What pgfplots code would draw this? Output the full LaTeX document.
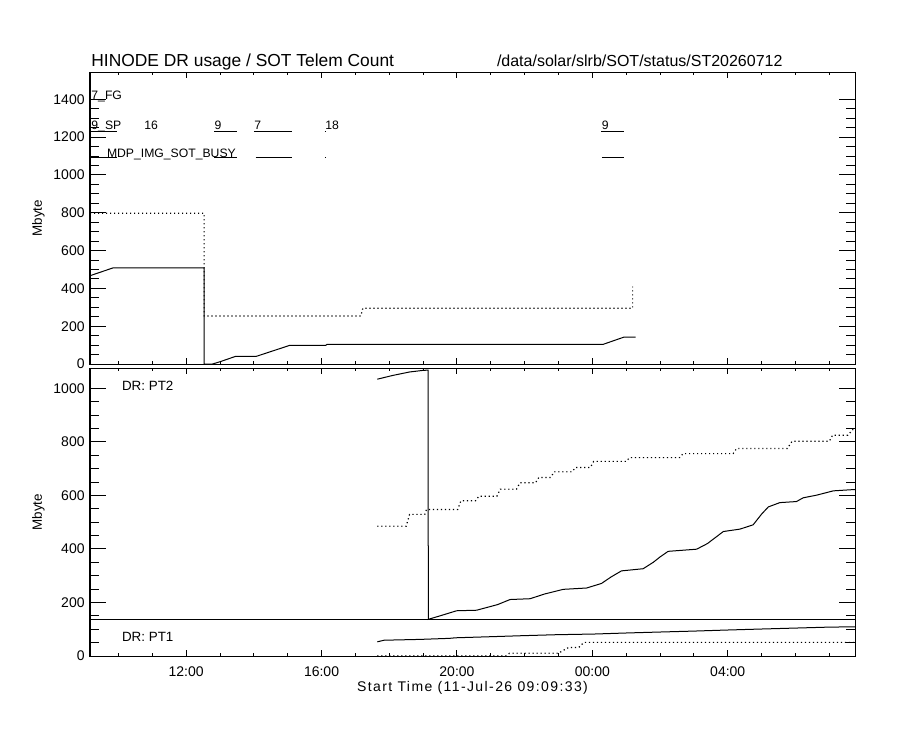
\documentclass[border=0pt]{standalone}
\usepackage{fontspec}
\setmainfont{Liberation Sans}
\newfontfamily\lsfont[LetterSpace=10]{Liberation Sans}
\usepackage{pgfplots}
\pgfplotsset{compat=1.18}
\newcommand{\tl}{\fontsize{7}{8}\selectfont}
\newcommand{\an}{\fontsize{6.1}{7}\selectfont}
\newcommand{\lb}{\fontsize{6.7}{8}\selectfont}
\pgfplotsset{
  idl/.style={
    scale only axis,
    clip=false,
    width=382.5pt,
    xmin=9.159, xmax=31.76,
    axis line style={line width=0.5pt},
    every tick/.style={line width=0.5pt, black},
    tick align=inside,
    xtick={12,16,20,24,28},
    minor xtick={10,11,13,14,15,17,18,19,21,22,23,25,26,27,29,30,31},
    xtick style={/pgfplots/major tick length=2.8pt,/pgfplots/minor tick length=1.4pt},
    ytick style={/pgfplots/major tick length=8pt,/pgfplots/minor tick length=4.5pt},
    minor y tick num=3,
    /pgf/number format/1000 sep={},
    /pgf/number format/assume math mode=true,
    tick label style={font=\tl},
    yticklabel style={anchor=east, inner sep=0pt, xshift=-2.5pt},
    xticklabel style={anchor=north, inner sep=0pt, yshift=-5.3pt},
    every axis plot/.append style={line width=0.5pt, black},
  },
  dots/.style={line width=0.6pt, dash pattern=on 0.6pt off 1.4pt},
}
\begin{document}
\begin{tikzpicture}
\path[use as bounding box] (0,0) rectangle (450pt,365pt);
% ---------------- top panel ----------------
\begin{axis}[idl,
  at={(45pt,183pt)}, anchor=south west,
  height=145.85pt,
  ymin=0, ymax=1543,
  ytick={0,200,400,600,800,1000,1200,1400},
  xticklabels={},
]
\addplot[solid] coordinates {(9.159,467) (9.85,509) (12.527,509) (12.527,0) (12.78,0) (13.0,12) (13.47,41) (14.08,41) (15.05,98) (16.12,98) (16.16,104) (24.32,104) (24.93,142) (25.28,142)};
\addplot[dots] coordinates {(9.159,797) (12.53,797) (12.53,254) (17.16,254) (17.22,295) (25.19,295) (25.19,409)};
% timeline segments
\addplot[solid] coordinates {(9.159,1232) (9.95,1232)};
\addplot[solid] coordinates {(12.83,1232) (13.49,1232)};
\addplot[solid] coordinates {(14.0,1232) (15.12,1232)};
\addplot[solid] coordinates {(16.10,1232) (16.13,1232)};
\addplot[solid] coordinates {(24.27,1232) (24.94,1232)};
\addplot[solid] coordinates {(9.159,1090) (9.95,1090)};
\addplot[solid] coordinates {(12.83,1090) (13.49,1090)};
\addplot[solid] coordinates {(14.05,1090) (15.12,1090)};
\addplot[solid] coordinates {(16.10,1090) (16.13,1090)};
\addplot[solid] coordinates {(24.28,1090) (24.94,1090)};
\node[anchor=base west, inner sep=0pt, font=\an] at (axis cs:9.19,1400) {7\_FG};
\node[anchor=base west, inner sep=0pt, font=\an] at (axis cs:9.19,1240) {9\_SP};
\node[anchor=base west, inner sep=0pt, font=\an] at (axis cs:10.75,1240) {16};
\node[anchor=base west, inner sep=0pt, font=\an] at (axis cs:12.83,1240) {9};
\node[anchor=base west, inner sep=0pt, font=\an] at (axis cs:14.0,1240) {7};
\node[anchor=base west, inner sep=0pt, font=\an] at (axis cs:16.10,1240) {18};
\node[anchor=base west, inner sep=0pt, font=\an] at (axis cs:24.27,1240) {9};
\node[anchor=base west, inner sep=0pt, font=\an] at (axis cs:9.65,1090) {MDP\_IMG\_SOT\_BUSY};
% titles and label
\node[anchor=base west, inner sep=0pt, font=\fontsize{8.7}{10}\selectfont] at ([xshift=0.5pt,yshift=2.8pt]rel axis cs:0,1) {HINODE DR usage / SOT Telem Count};
\node[anchor=base west, inner sep=0pt, font=\fontsize{8}{10}\selectfont] at ([xshift=203.3pt,yshift=2.8pt]rel axis cs:0,1) {/data/solar/slrb/SOT/status/ST20260712};
\node[rotate=90, anchor=center, inner sep=0pt, font=\lb] at ([xshift=-25.75pt]rel axis cs:0,0.5) {Mbyte};
\end{axis}
% ---------------- bottom panel ----------------
\begin{axis}[idl,
  at={(45pt,37pt)}, anchor=south west,
  height=143.75pt,
  ymin=0, ymax=1074,
  ytick={0,200,400,600,800,1000},
  xticklabels={12:00,16:00,20:00,00:00,04:00},
]
\addplot[solid] coordinates {(9.159,135) (31.76,135)};
% PT2
\addplot[solid] coordinates {(17.646,1034) (18.1,1048) (18.6,1061) (19.0,1067) (19.15,1068) (19.153,137) (19.5,150) (19.99,169) (20.58,171) (21.2,192) (21.57,211) (22.16,214) (22.6,232) (23.14,249) (23.83,254) (24.27,271) (24.55,295) (24.86,318) (25.5,326) (25.8,350) (26.0,370) (26.24,391) (27.08,399) (27.4,420) (27.87,465) (28.36,474) (28.75,490) (29.0,530) (29.2,557) (29.54,573) (30.03,577) (30.23,591) (30.63,601) (31.12,617) (31.76,622)};
\addplot[dots] coordinates {(17.646,485) (18.5,485) (18.6,529) (19.05,529) (19.1,547) (20.02,547) (20.12,580) (20.55,580) (20.65,597) (21.18,597) (21.28,623) (21.76,623) (21.86,647) (22.32,647) (22.42,667) (22.77,667) (22.87,688) (23.4,688) (23.5,704) (23.94,704) (24.04,727) (25.0,727) (25.1,741) (26.58,741) (26.68,756) (28.16,756) (28.26,775) (29.76,775) (29.9,802) (31.0,802) (31.1,825) (31.55,825) (31.7,846) (31.76,846)};
% PT1
\addplot[solid] coordinates {(17.646,53) (17.85,59) (18.9,62) (19.79,66) (19.95,68) (20.97,72) (21.96,76) (22.95,79.6) (24.03,82) (25.01,86) (26.0,89.6) (26.98,93) (27.97,97) (29.05,101) (30.04,104.5) (31.02,108) (31.76,109)};
\addplot[dots] coordinates {(17.646,1) (21.45,1) (21.55,10) (22.99,10) (23.2,25) (23.3,32) (23.6,32) (23.75,51) (31.76,51)};
\node[anchor=west, inner sep=0pt, font=\lb] at (rel axis cs:0.0414,0.941) {DR:\ PT2};
\node[anchor=west, inner sep=0pt, font=\lb] at (rel axis cs:0.0414,0.066) {DR:\ PT1};
\node[rotate=90, anchor=center, inner sep=0pt, font=\lb] at ([xshift=-25.75pt]rel axis cs:0,0.5) {Mbyte};
\node[anchor=base, inner sep=0pt, font=\lsfont\fontsize{7}{8}\selectfont] at ([yshift=-17.5pt]rel axis cs:0.5,0) {Start Time (11-Jul-26 09:09:33)};
\end{axis}
\end{tikzpicture}
\end{document}
